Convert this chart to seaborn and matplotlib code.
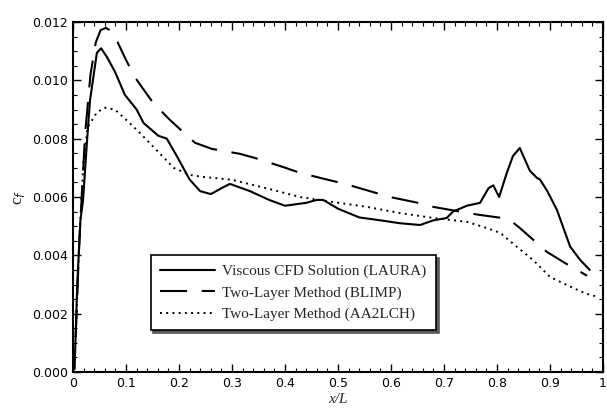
import numpy as np
import pandas as pd
import matplotlib
matplotlib.use("Agg")
import matplotlib.pyplot as plt
import seaborn as sns
from matplotlib.ticker import MultipleLocator, FixedLocator

# ---- data ----
laura_x = [0.003, 0.008, 0.014, 0.019, 0.026, 0.032, 0.045, 0.053, 0.064, 0.079, 0.098, 0.12, 0.133,
           0.161, 0.177, 0.196, 0.22, 0.24, 0.26, 0.28, 0.296, 0.334, 0.37, 0.40, 0.44, 0.46, 0.472,
           0.50, 0.54, 0.58, 0.617, 0.655, 0.68, 0.705, 0.717, 0.743, 0.768, 0.784, 0.793, 0.804,
           0.818, 0.83, 0.843, 0.862, 0.875, 0.881, 0.895, 0.913, 0.938, 0.957, 0.975]
laura_y = [0.0001, 0.003, 0.0052, 0.0059, 0.0078, 0.0093, 0.01094, 0.0111, 0.0108, 0.0103, 0.0095,
           0.0090, 0.00854, 0.0081, 0.0080, 0.0074, 0.0066, 0.0062, 0.0061, 0.0063, 0.00645, 0.0062,
           0.0059, 0.0057, 0.0058, 0.0059, 0.0059, 0.0056, 0.0053, 0.0052, 0.0051, 0.00504, 0.0052,
           0.00528, 0.0055, 0.0057, 0.0058, 0.0063, 0.0064, 0.0060, 0.0068, 0.0074, 0.00768, 0.0069,
           0.00666, 0.0066, 0.0062, 0.00556, 0.0043, 0.00384, 0.0035]

blimp_x = [0.005, 0.012, 0.023, 0.033, 0.043, 0.052, 0.062, 0.075, 0.10, 0.117, 0.151, 0.183, 0.23,
           0.262, 0.315, 0.343, 0.396, 0.428, 0.481, 0.513, 0.566, 0.598, 0.651, 0.68, 0.73, 0.762,
           0.81, 0.825, 0.843, 0.894, 0.928, 0.97]
blimp_y = [0.0012, 0.0045, 0.0082, 0.0102, 0.0113, 0.01172, 0.0118, 0.01166, 0.0107, 0.0101,
           0.00923, 0.00864, 0.00786, 0.00765, 0.00748, 0.00734, 0.00703, 0.00683, 0.00659, 0.00645,
           0.00617, 0.0060, 0.0058, 0.00566, 0.0055, 0.0054, 0.00528, 0.0052, 0.00494, 0.00412,
           0.00374, 0.0033]

aa2lch_x = [0.005, 0.012, 0.02, 0.028, 0.045, 0.06, 0.079, 0.10, 0.126, 0.158, 0.19, 0.22, 0.24,
            0.30, 0.365, 0.428, 0.49, 0.555, 0.617, 0.68, 0.743, 0.78, 0.806, 0.837, 0.868, 0.9,
            0.932, 0.966, 0.985]
aa2lch_y = [0.0012, 0.0045, 0.0073, 0.0084, 0.0089, 0.00906, 0.0090, 0.00865, 0.0082, 0.0076,
            0.0070, 0.00676, 0.0067, 0.00659, 0.0063, 0.0060, 0.00583, 0.00566, 0.00545, 0.00528,
            0.00515, 0.00494, 0.00477, 0.0043, 0.00384, 0.00326, 0.00298, 0.0027, 0.0026]

series_names = ["Viscous CFD Solution (LAURA)", "Two-Layer Method (BLIMP)", "Two-Layer Method (AA2LCH)"]
x_ticks = [0, 0.1, 0.2, 0.3, 0.4, 0.5, 0.6, 0.7, 0.8, 0.9, 1.0]
x_tick_labels = ["0", "0.1", "0.2", "0.3", "0.4", "0.5", "0.6", "0.7", "0.8", "0.9", "1"]
y_ticks = [0.0, 0.002, 0.004, 0.006, 0.008, 0.010, 0.012]
y_tick_labels = ["0.000", "0.002", "0.004", "0.006", "0.008", "0.010", "0.012"]

sns.set_theme(style="white")
plt.rcParams["font.family"] = ["DejaVu Sans"]

fig = plt.figure(figsize=(6.07, 4.19), dpi=100)
ax = fig.add_axes([73 / 607, 47 / 419, 530 / 607, 350 / 419])

lw = 1.5
sns.lineplot(x=laura_x, y=laura_y, ax=ax, color="black", lw=lw, sort=False, estimator=None,
             label=series_names[0])
sns.lineplot(x=blimp_x, y=blimp_y, ax=ax, color="black", lw=lw, sort=False, estimator=None,
             label=series_names[1])
sns.lineplot(x=aa2lch_x, y=aa2lch_y, ax=ax, color="black", lw=1.4, sort=False, estimator=None,
             label=series_names[2])
ax.lines[1].set_dashes([13, 7])
ax.lines[2].set_dashes([1.0, 2.2])

ax.set_xlim(0, 1)
ax.set_ylim(0, 0.012)
ax.xaxis.set_major_locator(FixedLocator(x_ticks))
ax.set_xticklabels(x_tick_labels)
ax.yaxis.set_major_locator(FixedLocator(y_ticks))
ax.set_yticklabels(y_tick_labels)
ax.xaxis.set_minor_locator(MultipleLocator(0.02))
ax.yaxis.set_minor_locator(MultipleLocator(0.0005))
ax.tick_params(which="both", direction="in", top=True, right=True, bottom=True, left=True,
               color="black", labelsize=9, labelcolor="black")
ax.tick_params(which="major", length=6, width=1)
ax.tick_params(which="minor", length=3, width=0.8)
for s in ax.spines.values():
    s.set_color("black")
    s.set_linewidth(1.5)

ax.set_xlabel("x/L", fontfamily="Liberation Serif", fontstyle="italic", fontsize=11, labelpad=2)
ax.set_ylabel("c$_f$", fontfamily="Liberation Serif", fontsize=12, labelpad=4)

leg = ax.legend(loc="lower left", bbox_to_anchor=(0.132, 0.097), frameon=True, fancybox=False,
                shadow={"color": "0.35", "alpha": 1}, edgecolor="black", framealpha=1,
                handlelength=3.6, prop={"family": "Liberation Serif", "size": 11}, borderpad=0.6,
                labelspacing=0.5, handletextpad=0.5)
leg.get_frame().set_linewidth(1.2)

fig.savefig("out.png", dpi=100)
